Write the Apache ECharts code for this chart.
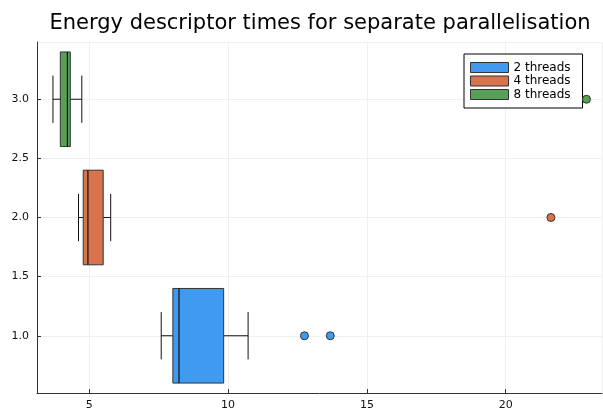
<!DOCTYPE html>
<html>
<head>
<meta charset="utf-8">
<script src="https://cdn.jsdelivr.net/npm/echarts@6/dist/echarts.min.js"></script>
<style>
html,body{margin:0;padding:0;background:#fff;}
#chart{width:603px;height:412px;}
</style>
</head>
<body>
<div id="chart"></div>
<script>
// Data
const seriesNames = ['2 threads', '4 threads', '8 threads'];
const groupPositions = [1, 2, 3];
// [min whisker, q1, median, q3, max whisker]
const stats2 = [7.59, 8.01, 8.23, 9.84, 10.72];
const stats4 = [4.61, 4.78, 4.95, 5.50, 5.77];
const stats8 = [3.69, 3.955, 4.21, 4.315, 4.73];
const outliers2 = [12.75, 13.68];
const outliers4 = [21.63];
const outliers8 = [22.91];
const colors = ['#3E9BF0', '#D7734D', '#589F58'];
const title = 'Energy descriptor times for separate parallelisation';

const allStats = [stats2, stats4, stats8];
const allOutliers = [outliers2, outliers4, outliers8];

const FONT = 'DejaVu Sans';

function renderBox(params, api) {
  const y = api.value(0);
  const mn = api.value(1), q1 = api.value(2), md = api.value(3), q3 = api.value(4), mx = api.value(5);
  const h = api.size([0, 0.8])[1];
  const pMin = api.coord([mn, y]);
  const pQ1 = api.coord([q1, y]);
  const pMd = api.coord([md, y]);
  const pQ3 = api.coord([q3, y]);
  const pMax = api.coord([mx, y]);
  const cy = pMin[1];
  const color = api.visual('color');
  const lineStyle = {stroke: '#111', lineWidth: 1};
  return {
    type: 'group',
    children: [
      {type: 'line', shape: {x1: pMin[0], y1: cy, x2: pQ1[0], y2: cy}, style: lineStyle},
      {type: 'line', shape: {x1: pQ3[0], y1: cy, x2: pMax[0], y2: cy}, style: lineStyle},
      {type: 'line', shape: {x1: pMin[0], y1: cy - h / 4, x2: pMin[0], y2: cy + h / 4}, style: lineStyle},
      {type: 'line', shape: {x1: pMax[0], y1: cy - h / 4, x2: pMax[0], y2: cy + h / 4}, style: lineStyle},
      {type: 'rect', shape: {x: pQ1[0], y: cy - h / 2, width: pQ3[0] - pQ1[0], height: h},
        style: {fill: color, stroke: '#333', lineWidth: 1}},
      {type: 'line', shape: {x1: pMd[0], y1: cy - h / 2, x2: pMd[0], y2: cy + h / 2}, style: {stroke: '#111', lineWidth: 1.2}}
    ]
  };
}

const series = [];
seriesNames.forEach((name, i) => {
  series.push({
    name: name,
    type: 'custom',
    renderItem: renderBox,
    itemStyle: {color: colors[i]},
    encode: {x: [1, 2, 3, 4, 5], y: 0},
    data: [[groupPositions[i]].concat(allStats[i])],
    z: 3
  });
});
seriesNames.forEach((name, i) => {
  series.push({
    name: name,
    type: 'scatter',
    symbol: 'circle',
    symbolSize: 8,
    itemStyle: {color: colors[i], borderColor: '#333', borderWidth: 1, opacity: 1},
    data: allOutliers[i].map(v => [v, groupPositions[i]]),
    z: 4
  });
});

const chart = echarts.init(document.getElementById('chart'), null, {renderer: 'canvas'});
chart.setOption({
  animation: false,
  backgroundColor: '#fff',
  title: {
    text: title,
    left: 315,
    textAlign: 'center',
    top: 8,
    textStyle: {fontFamily: FONT, fontSize: 21, fontWeight: 'normal', color: '#000'}
  },
  legend: {
    orient: 'vertical',
    left: 464,
    top: 54,
    padding: [7, 12, 7, 6],
    backgroundColor: '#fff',
    borderColor: '#000',
    borderWidth: 1,
    borderRadius: 0,
    itemWidth: 38,
    itemHeight: 10,
    itemGap: 0.5,
    selectedMode: false,
    textStyle: {fontFamily: FONT, fontSize: 12, color: '#000', padding: [0, 0, 0, 0], lineHeight: 13},
    data: seriesNames.map((n, i) => ({name: n, icon: 'rect', itemStyle: {color: colors[i], borderColor: '#333', borderWidth: 1}}))
  },
  grid: {left: 37, right: 1, top: 42, bottom: 19, containLabel: false},
  xAxis: {
    type: 'value',
    min: 3.115,
    max: 23.47,
    axisLine: {show: true, lineStyle: {color: '#333', width: 1}},
    axisTick: {show: true, inside: true, length: 4, lineStyle: {color: '#333'}},
    axisLabel: {showMinLabel: false, showMaxLabel: false, margin: 7, fontFamily: FONT, fontSize: 11, color: '#111'},
    splitLine: {show: true, lineStyle: {color: '#efefef', width: 1}}
  },
  yAxis: {
    type: 'value',
    min: 0.516,
    max: 3.484,
    axisLine: {show: true, lineStyle: {color: '#333', width: 1}},
    axisTick: {show: true, inside: true, length: 4, lineStyle: {color: '#333'}},
    axisLabel: {showMinLabel: false, showMaxLabel: false, margin: 8, fontFamily: FONT, fontSize: 11, color: '#111',
      formatter: v => v.toFixed(1)},
    splitLine: {show: true, lineStyle: {color: '#efefef', width: 1}}
  },
  series: series
});
</script>
</body>
</html>
